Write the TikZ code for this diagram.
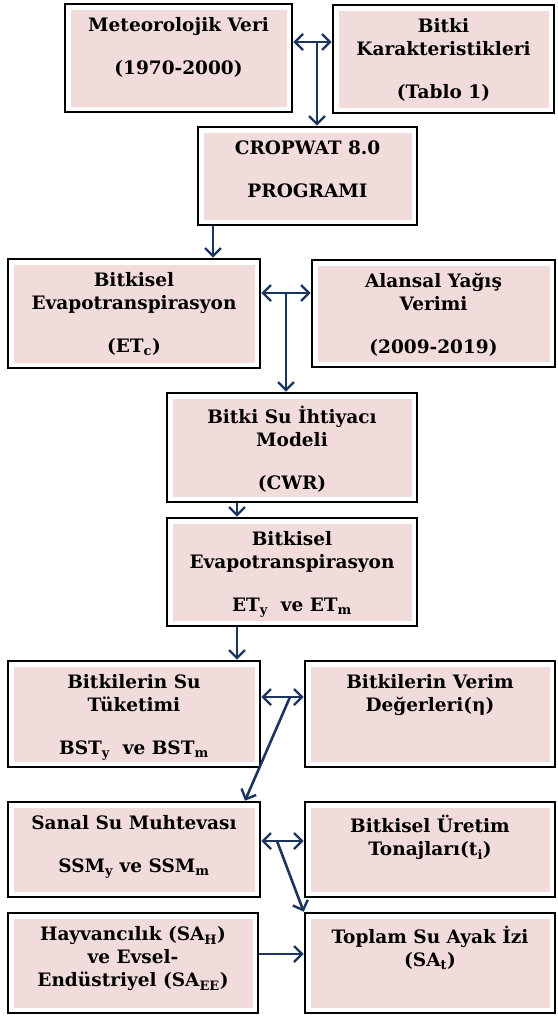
\documentclass[tikz,border=0pt]{standalone}
\usepackage{fontspec}
\setmainfont{DejaVu Serif}
\usetikzlibrary{arrows.meta}
\definecolor{boxpink}{HTML}{F2DCDB}
\definecolor{arrblue}{HTML}{1C355E}
\newcommand{\boxtxt}[3]{\parbox[t][#2][t]{#1}{\centering\fontsize{18.5}{23}\selectfont\bfseries\vspace*{13.5pt}#3\par}}
\tikzset{
  flowbox/.style={draw=black, line width=2.6pt, fill=white, inner sep=0pt, rectangle,
    path picture={\fill[boxpink] ([shift={(5.5pt,-5.5pt)}]path picture bounding box.north west) rectangle ([shift={(-5.5pt,5.5pt)}]path picture bounding box.south east);}},
  conn/.style={draw=arrblue, line width=2.6pt, -{Straight Barb[length=8pt,width=16pt,line width=2.4pt]}},
  dconn/.style={draw=arrblue, line width=2.6pt, {Straight Barb[length=8pt,width=16pt,line width=2.4pt]}-{Straight Barb[length=8pt,width=16pt,line width=2.4pt]}}
}
\begin{document}
\begin{tikzpicture}[x=1pt,y=-1pt]
\useasboundingbox (0,0) rectangle (557,1017);
\node[flowbox] (met) at (178.5,58) {\boxtxt{227pt}{108pt}{Meteorolojik Veri\\[20pt](1970-2000)}};
\node[flowbox] (kar) at (443.5,59) {\boxtxt{221pt}{108pt}{Bitki\\Karakteristikleri\\[20pt](Tablo 1)}};
\node[flowbox] (crop) at (307.5,176) {\boxtxt{219pt}{98pt}{CROPWAT 8.0\\[20pt]PROGRAMI}};
\node[flowbox] (etc) at (134,313.5) {\boxtxt{252pt}{109pt}{Bitkisel\\Evapotranspirasyon\\[20pt](ET\textsubscript{c})}};
\node[flowbox] (ala) at (433.5,313.5) {\boxtxt{243pt}{107pt}{Alansal Yağış\\Verimi\\[20pt](2009-2019)}};
\node[flowbox] (bsi) at (292,447.5) {\boxtxt{250pt}{109pt}{Bitki Su İhtiyacı\\Modeli\\[20pt](CWR)}};
\node[flowbox] (bet) at (292,572) {\boxtxt{250pt}{108pt}{Bitkisel\\Evapotranspirasyon\\[20pt]ET\textsubscript{y}~~ve ET\textsubscript{m}}};
\node[flowbox] (bst) at (134,714) {\boxtxt{252pt}{106pt}{Bitkilerin Su\\Tüketimi\\[20pt]BST\textsubscript{y}~~ve BST\textsubscript{m}}};
\node[flowbox] (ver) at (430,714) {\boxtxt{250pt}{106pt}{Bitkilerin Verim\\Değerleri(η)}};
\node[flowbox] (ssm) at (134,849.5) {\boxtxt{252pt}{95pt}{Sanal Su Muhtevası\\[20pt]SSM\textsubscript{y} ve SSM\textsubscript{m}}};
\node[flowbox] (ure) at (430,849.5) {\boxtxt{250pt}{95pt}{Bitkisel Üretim\\Tonajları(t\textsubscript{i})}};
\node[flowbox] (hay) at (133,963) {\boxtxt{250pt}{100pt}{Hayvancılık (SA\textsubscript{H})\\ve Evsel-\\Endüstriyel (SA\textsubscript{EE})}};
\node[flowbox] (top) at (430,963) {\boxtxt{250pt}{100pt}{Toplam Su Ayak İzi\\(SA\textsubscript{t})}};
% junctions
\coordinate (j1) at (317,42);
\coordinate (k2) at (213,0);
\coordinate (j3) at (286,293);
\coordinate (k4) at (237,0);
\coordinate (j6) at (290,697);
\coordinate (k6) at (245,0);
\coordinate (j7) at (277,841);
\coordinate (k8) at (0,954);
% connectors
\draw[dconn] (met.east |- j1) -- (kar.west |- j1);
\draw[conn] (j1) -- (j1 |- crop.north);
\draw[conn] (crop.south -| k2) -- (etc.north -| k2);
\draw[dconn] (etc.east |- j3) -- (ala.west |- j3);
\draw[conn] (j3) -- (j3 |- bsi.north);
\draw[conn] (bsi.south -| k4) -- (bet.north -| k4);
\draw[conn] (bet.south -| k4) -- (bst.north -| k4);
\draw[dconn] (bst.east |- j6) -- (ver.west |- j6);
\draw[conn] (j6) -- (ssm.north -| k6);
\draw[dconn] (ssm.east |- j7) -- (ure.west |- j7);
\draw[conn] (j7) -- (top.north west);
\draw[conn] (hay.east |- k8) -- (top.west |- k8);
\end{tikzpicture}
\end{document}
